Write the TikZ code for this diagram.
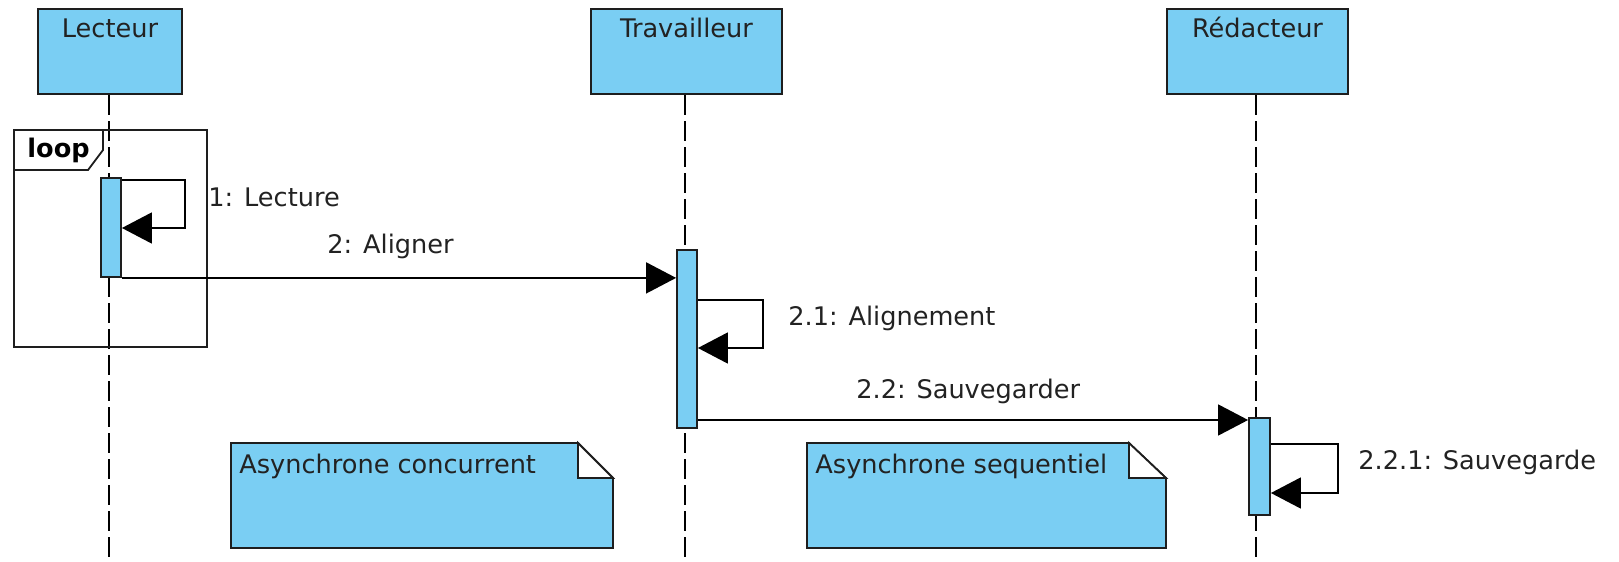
\documentclass[tikz,border=0pt]{standalone}
\usepackage{fontspec}
\setmainfont{DejaVu Sans}
\usetikzlibrary{arrows.meta}
\definecolor{umlblue}{RGB}{122,206,243}
\definecolor{txt}{RGB}{34,34,34}
\definecolor{framec}{RGB}{30,30,30}
\begin{document}
\begin{tikzpicture}[x=0.5pt,y=-0.5pt,
  font=\fontsize{12.8}{15}\selectfont,
  lifebox/.style={draw=framec, line width=1pt, fill=umlblue, inner sep=0},
  lifeline/.style={line width=1pt, dash pattern=on 9.75pt off 3.25pt},
  act/.style={draw=framec, line width=0.9pt, fill=umlblue, inner sep=0, minimum width=10pt},
  msg/.style={line width=0.8pt, -{Triangle[length=15pt,width=15.5pt]}},
  lbl/.style={anchor=base west, inner sep=0, text=txt},
  title/.style={anchor=base, inner sep=0, text=txt},
  notebox/.style={draw=framec, line width=0.9pt, fill=umlblue},
  fold/.style={draw=framec, line width=0.9pt, fill=white, line join=miter},
  framebox/.style={draw=framec, line width=0.9pt}]
\useasboundingbox (0,0) rectangle (1619,562);

% lifeline heads
\node[lifebox, minimum width=72pt, minimum height=42.5pt] (lect) at (110,51.5) {};
\node[lifebox, minimum width=95.5pt, minimum height=42.5pt] (trav) at (686.5,51.5) {};
\node[lifebox, minimum width=90.5pt, minimum height=42.5pt] (reda) at (1257.5,51.5) {};
\node[title] (lectT) at (110,37) {Lecteur};
\node[title] (travT) at (686.5,37) {Travailleur};
\node[title] (redaT) at (1257.5,37) {Rédacteur};

% lifelines
\coordinate (lectEnd) at (109,562);
\coordinate (travEnd) at (685,562);
\coordinate (redaEnd) at (1256,562);
\draw[lifeline] (lect.south -| lectEnd) -- (lectEnd);
\draw[lifeline] (trav.south -| travEnd) -- (travEnd);
\draw[lifeline] (reda.south -| redaEnd) -- (redaEnd);

% loop frame
\draw[framebox] (14,130) rectangle (207,347);
\draw[framebox] (14,170) -- (88,170) -- (103,150) -- (103,130);
\node[anchor=base west, inner sep=0, font=\fontsize{12.8}{15}\selectfont\bfseries] (loopT) at (27,157) {loop};

% activations
\node[act, minimum height=49.5pt] (a1) at (111,227.5) {};
\node[act, minimum height=89pt] (a2) at (687,339) {};
\node[act, minimum height=48.5pt, minimum width=10.5pt] (a3) at (1259.5,466.5) {};

% messages
\coordinate (m1r) at (185,228);
\draw[msg] (a1.east |- 0,180) -| (m1r) -- (a1.east |- m1r);
\node[lbl] (m1) at (208,206) {1: Lecture};

\draw[msg] (a1.south east) -- (a2.west |- a1.south east);
\node[lbl] (m2) at (327,253) {2: Aligner};

\coordinate (m21r) at (763,348);
\draw[msg] (a2.east |- 0,300) -| (m21r) -- (a2.east |- m21r);
\node[lbl] (m21) at (788,325) {2.1: Alignement};

\draw[msg] (a2.east |- 0,420) -- (a3.west |- 0,420);
\node[lbl] (m22) at (856,398) {2.2: Sauvegarder};

\coordinate (m221r) at (1338,493);
\draw[msg] (a3.east |- 0,444) -| (m221r) -- (a3.east |- m221r);
\node[lbl] (m221) at (1358,469) {2.2.1: Sauvegarde};

% notes
\draw[notebox] (231,443) -- (578,443) -- (613,478) -- (613,548) -- (231,548) -- cycle;
\draw[fold] (578,443) -- (578,478) -- (613,478) -- cycle;
\node[lbl] (n1) at (239,473) {Asynchrone concurrent};

\draw[notebox] (807,443) -- (1129,443) -- (1166,478) -- (1166,548) -- (807,548) -- cycle;
\draw[fold] (1129,443) -- (1129,478) -- (1166,478) -- cycle;
\node[lbl] (n2) at (815,473) {Asynchrone sequentiel};
\end{tikzpicture}
\end{document}
